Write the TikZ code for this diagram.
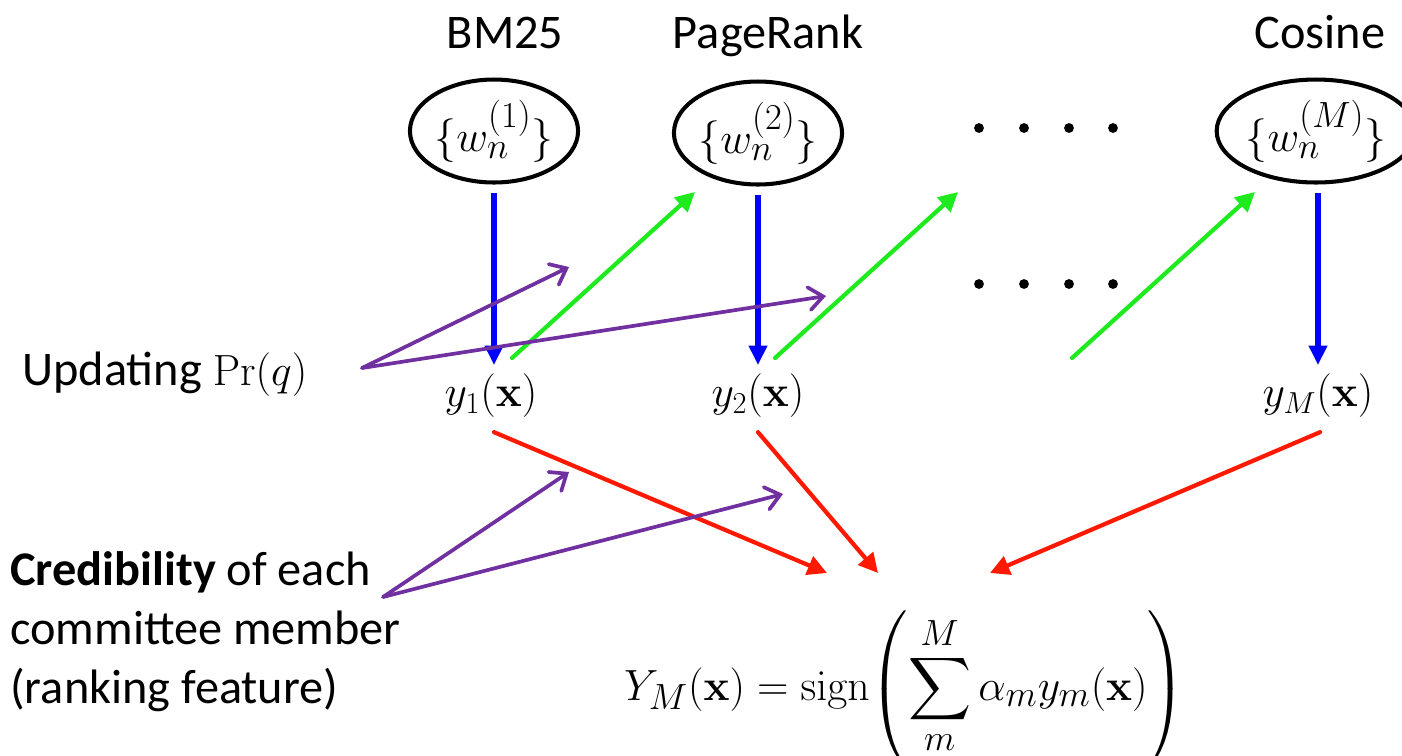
\documentclass[tikz,border=0pt]{standalone}
\usepackage{amsmath}
\usepackage[no-math]{fontspec}
\setmainfont{Carlito}
\usepackage{tikz}
\usetikzlibrary{arrows.meta,positioning,shapes.geometric,calc}

\definecolor{wblue}{RGB}{0,0,255}
\definecolor{wgreen}{RGB}{30,235,30}
\definecolor{wred}{RGB}{255,25,0}
\definecolor{wpurple}{RGB}{112,48,160}

\newcommand{\txtsize}{\fontsize{27.5}{33.5}\selectfont}
\newcommand{\mathsize}{\fontsize{27}{33}\selectfont}
\newcommand{\bigmathsize}{\fontsize{31.5}{36}\selectfont}
\newcommand{\votesize}{\fontsize{29.5}{35}\selectfont}

\tikzset{
  wnode/.style={draw, ellipse, line width=2.3pt, minimum width=3.34cm, minimum height=2.06cm, inner sep=0pt, font=\bigmathsize},
  title/.style={font=\txtsize, anchor=base, inner sep=0pt},
  ylab/.style={font=\mathsize, inner sep=0pt},
  blueline/.style={draw=wblue, line width=2.9pt, -{Triangle[length=11pt,width=10pt]}},
  greenline/.style={draw=wgreen, line width=2.4pt, line cap=round, -{Triangle[length=11pt,width=11pt]}},
  redline/.style={draw=wred, line width=2.4pt, line cap=round, -{Triangle[length=11pt,width=11pt]}},
  purpleline/.style={draw=wpurple, line width=2.1pt, line cap=round, -{Straight Barb[length=8pt,width=13pt,line cap=round]}}
}

\begin{document}
\begin{tikzpicture}[x=0.02cm, y=-0.02cm]
    \useasboundingbox (0,0) rectangle (1402,755);

    % committee members
    \node[title] (t1) at (505,48) {BM25};
    \node[title] (t2) at (768,48) {PageRank};
    \node[title] (tM) at (1320,48) {Cosine};
    \node[wnode] (w1) at (494,131) {$\{w_n^{(1)}\}$};
    \node[wnode] (w2) at (758,133) {$\{w_n^{(2)}\}$};
    \node[wnode] (wM) at (1316,131) {$\{w_n^{(M)}\}$};

    \node[ylab] (y1) at (491,396) {$y_1(\mathbf{x})$};
    \node[ylab] (y2) at (758,396) {$y_2(\mathbf{x})$};
    \node[ylab] (yM) at (1318,396) {$y_M(\mathbf{x})$};

    \foreach \x in {979,1024,1069,1113} {
        \fill (\x,128) circle (2.8pt);
        \fill (\x,284) circle (2.8pt);
    }

    % outputs of each member
    \draw[blueline, shorten <=5pt, shorten >=5pt] (w1.south) -- (w1.south |- y1.north);
    \draw[blueline, shorten <=5pt, shorten >=5pt] (w2.south) -- (w2.south |- y2.north);
    \draw[blueline, shorten <=5pt, shorten >=5pt] (wM.south -| yM.north) -- (yM.north);

    % passing the weights on
    \coordinate (g1a) at (512,358);
    \coordinate (g1b) at (695,192);
    \coordinate (g2a) at (775,358);
    \coordinate (g2b) at (958,192);
    \coordinate (g3a) at (1072,358);
    \coordinate (g3b) at (1255,192);
    \draw[greenline] (g1a) -- (g1b);
    \draw[greenline] (g2a) -- (g2b);
    \draw[greenline] (g3a) -- (g3b);

    % final vote
    \node[font=\votesize, anchor=base, inner sep=0pt] (vote) at (905,700)
        {$\displaystyle Y_M(\mathbf{x}) = \mathrm{sign}\!\left(\sum_{m}^{M} \alpha_m y_m(\mathbf{x})\right)$};
    \coordinate (r1) at (827,573);
    \coordinate (r2) at (878,573);
    \coordinate (r3) at (990,573);
    \draw[redline] ($(y1.south -| w1.south)+(0,14)$) -- (r1);
    \draw[redline] ($(y2.south -| w2.south)+(0,14)$) -- (r2);
    \draw[redline] ($(yM.south)+(2,14)$) -- (r3);

    % annotations
    \node[font=\txtsize, anchor=base west, inner sep=0pt] (upd) at (22,385) {Updating $\Pr(q)$};
    \node[font=\txtsize, anchor=base west, inner sep=0pt, align=left] (cred) at (10,703)
        {\textbf{Credibility} of each\\committee member\\(ranking feature)};
    \coordinate (updsrc) at (362,368);
    \coordinate (credsrc) at (383,597);
    \coordinate (pu1) at (569,267);
    \coordinate (pu2) at (826,296);
    \coordinate (pc1) at (569,472);
    \coordinate (pc2) at (783,494);
    \draw[purpleline] (updsrc) -- (pu1);
    \draw[purpleline] (updsrc) -- (pu2);
    \draw[purpleline] (credsrc) -- (pc1);
    \draw[purpleline] (credsrc) -- (pc2);
\end{tikzpicture}
\end{document}
